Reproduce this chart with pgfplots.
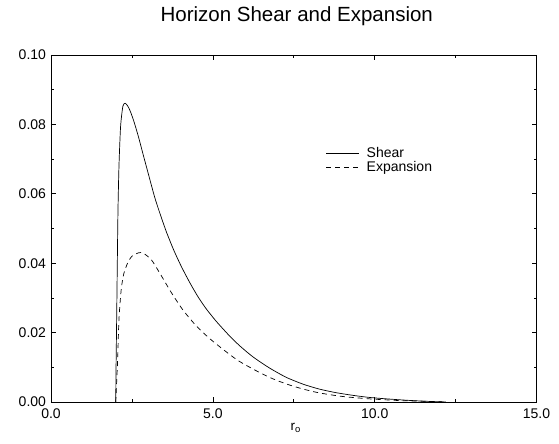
\documentclass[border=0pt]{standalone}
\usepackage{fontspec}
\setmainfont{Liberation Sans}
\usepackage{pgfplots}
\pgfplotsset{compat=1.18}

% Shear of the horizon as a function of r_o
\pgfplotstableread{
r      s
2.00   0.0000
2.01   0.0100
2.03   0.0250
2.05   0.0410
2.07   0.0555
2.10   0.0680
2.15   0.0794
2.22   0.0852
2.29   0.0861
2.37   0.0853
2.44   0.0840
2.55   0.0812
2.70   0.0765
2.85   0.0712
3.00   0.0660
3.21   0.0588
3.40   0.0534
3.57   0.0489
3.80   0.0436
4.04   0.0388
4.30   0.0342
4.55   0.0302
4.80   0.0268
5.11   0.0232
5.50   0.0192
5.83   0.0162
6.24   0.0130
6.75   0.0098
7.27   0.0071
7.80   0.0051
8.30   0.0037
8.80   0.0027
9.34   0.0019
9.85   0.0013
10.37  0.0009
11.00  0.0005
11.60  0.0002
12.20  0.0000
}\sheartable

% Expansion of the horizon as a function of r_o
\pgfplotstableread{
r      e
2.00   0.0000
2.03   0.0060
2.06   0.0124
2.10   0.0239
2.17   0.0325
2.25   0.0370
2.37   0.0401
2.50   0.0420
2.71   0.0430
2.85   0.0429
3.10   0.0410
3.37   0.0370
3.70   0.0318
4.07   0.0266
4.50   0.0218
4.90   0.0183
5.31   0.0152
5.77   0.0120
6.24   0.0095
6.75   0.0071
7.27   0.0052
7.80   0.0037
8.30   0.0026
9.00   0.0016
9.85   0.0009
10.80  0.0004
11.60  0.0002
12.20  0.0000
}\expansiontable

\begin{document}
\begin{tikzpicture}
\begin{axis}[
  name=ax,
  width=485.5pt, height=347pt,
  scale only axis,
  xmin=0, xmax=15, ymin=0, ymax=0.1,
  xtick={0,5,10,15},
  minor xtick={2.5,7.5,12.5},
  ytick={0,0.02,0.04,0.06,0.08,0.1},
  minor ytick={0.01,0.03,0.05,0.07,0.09},
  tick align=inside,
  major tick length=5pt,
  minor tick length=3pt,
  tick style={black, line width=0.6pt},
  axis line style={line width=0.8pt},
  xticklabel style={/pgf/number format/.cd, fixed, fixed zerofill, precision=1, assume math mode=true},
  yticklabel style={/pgf/number format/.cd, fixed, fixed zerofill, precision=2, assume math mode=true},
  scaled y ticks=false,
  ticklabel style={font=\fontsize{14}{16}\selectfont},
  xticklabel shift=3pt,
  yticklabel shift=1.5pt,
  xlabel={r\textsubscript{o}},
  xlabel style={font=\fontsize{13.5}{16}\selectfont, yshift=2pt, xshift=2pt},
  title={Horizon Shear and Expansion},
  title style={font=\fontsize{20.5}{24}\selectfont, yshift=19.5pt, xshift=3pt},
  legend style={draw=none, fill=none, at={(0.566,0.741)}, anchor=north west,
    font=\fontsize{14}{16}\selectfont, row sep=-1pt, inner sep=0pt,
    /tikz/every odd column/.append style={column sep=5pt}},
  legend cell align=left,
  legend image code/.code={\draw[#1] (0pt,0pt) -- (33pt,0pt);},
]
\addplot[black, line width=0.7pt, smooth, tension=0.4] table[x=r, y=s] {\sheartable};
\addlegendentry{Shear}
\addplot[black, line width=0.7pt, smooth, tension=0.4, dash pattern=on 5pt off 4pt] table[x=r, y=e] {\expansiontable};
\addlegendentry{Expansion}
\end{axis}
\pgfresetboundingbox
\path[use as bounding box] ([shift={(-51pt,-41.7pt)}]ax.south west) rectangle ([shift={(22.5pt,55pt)}]ax.north east);
\end{tikzpicture}
\end{document}
